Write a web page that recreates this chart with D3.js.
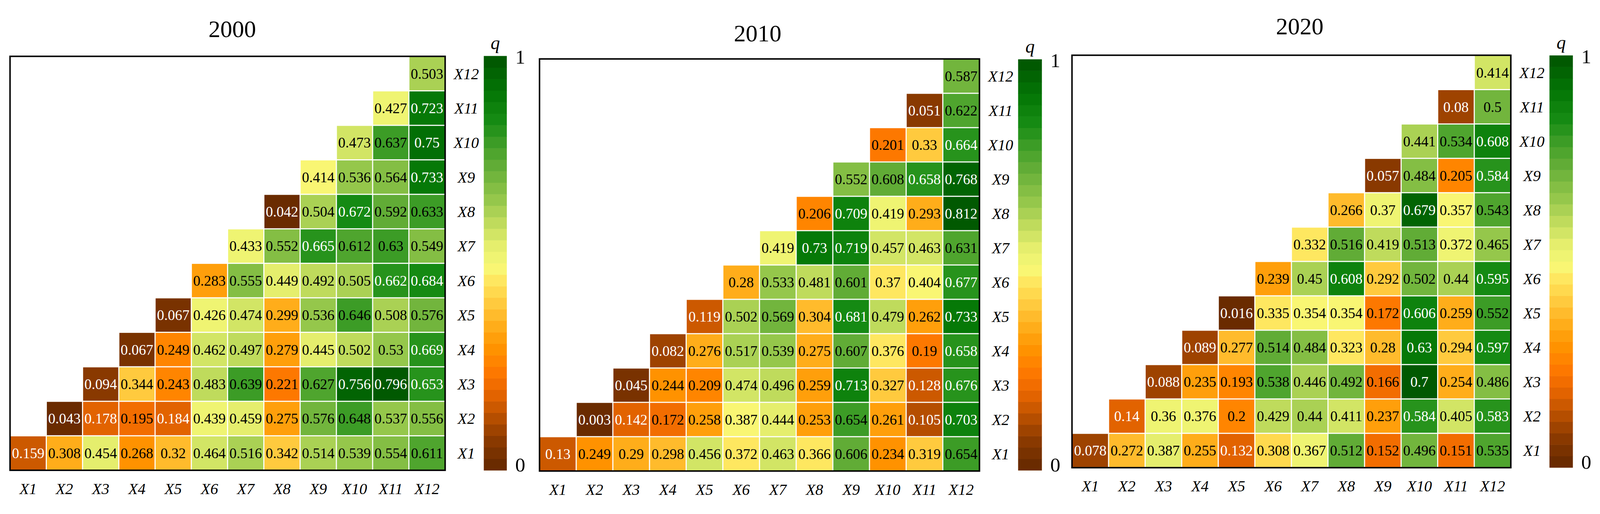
<!DOCTYPE html>
<html>
<head>
<meta charset="utf-8">
<script src="https://cdn.jsdelivr.net/npm/d3@7"></script>
<style>
  html, body { margin: 0; padding: 0; background: #fff; overflow: hidden; }
  #chart { display: block; width: 100vw; height: 100vh; }
  text { font-family: "Liberation Serif", "Times New Roman", serif; }
</style>
</head>
<body>
<svg id="chart" viewBox="0 0 4306 1317" preserveAspectRatio="xMidYMid meet"></svg>
<script>

const factors = ["X1", "X2", "X3", "X4", "X5", "X6", "X7", "X8", "X9", "X10", "X11", "X12"];
const years = ["2000", "2010", "2020"];

// row Xi holds q of Xi ∩ Xj for j = i..12 (diagonal first)
const q2000 = [
  [0.159, 0.308, 0.454, 0.268, 0.32, 0.464, 0.516, 0.342, 0.514, 0.539, 0.554, 0.611],
  [0.043, 0.178, 0.195, 0.184, 0.439, 0.459, 0.275, 0.576, 0.648, 0.537, 0.556],
  [0.094, 0.344, 0.243, 0.483, 0.639, 0.221, 0.627, 0.756, 0.796, 0.653],
  [0.067, 0.249, 0.462, 0.497, 0.279, 0.445, 0.502, 0.53, 0.669],
  [0.067, 0.426, 0.474, 0.299, 0.536, 0.646, 0.508, 0.576],
  [0.283, 0.555, 0.449, 0.492, 0.505, 0.662, 0.684],
  [0.433, 0.552, 0.665, 0.612, 0.63, 0.549],
  [0.042, 0.504, 0.672, 0.592, 0.633],
  [0.414, 0.536, 0.564, 0.733],
  [0.473, 0.637, 0.75],
  [0.427, 0.723],
  [0.503]
];

const q2010 = [
  [0.13, 0.249, 0.29, 0.298, 0.456, 0.372, 0.463, 0.366, 0.606, 0.234, 0.319, 0.654],
  [0.003, 0.142, 0.172, 0.258, 0.387, 0.444, 0.253, 0.654, 0.261, 0.105, 0.703],
  [0.045, 0.244, 0.209, 0.474, 0.496, 0.259, 0.713, 0.327, 0.128, 0.676],
  [0.082, 0.276, 0.517, 0.539, 0.275, 0.607, 0.376, 0.19, 0.658],
  [0.119, 0.502, 0.569, 0.304, 0.681, 0.479, 0.262, 0.733],
  [0.28, 0.533, 0.481, 0.601, 0.37, 0.404, 0.677],
  [0.419, 0.73, 0.719, 0.457, 0.463, 0.631],
  [0.206, 0.709, 0.419, 0.293, 0.812],
  [0.552, 0.608, 0.658, 0.768],
  [0.201, 0.33, 0.664],
  [0.051, 0.622],
  [0.587]
];

const q2020 = [
  [0.078, 0.272, 0.387, 0.255, 0.132, 0.308, 0.367, 0.512, 0.152, 0.496, 0.151, 0.535],
  [0.14, 0.36, 0.376, 0.2, 0.429, 0.44, 0.411, 0.237, 0.584, 0.405, 0.583],
  [0.088, 0.235, 0.193, 0.538, 0.446, 0.492, 0.166, 0.7, 0.254, 0.486],
  [0.089, 0.277, 0.514, 0.484, 0.323, 0.28, 0.63, 0.294, 0.597],
  [0.016, 0.335, 0.354, 0.354, 0.172, 0.606, 0.259, 0.552],
  [0.239, 0.45, 0.608, 0.292, 0.502, 0.44, 0.595],
  [0.332, 0.516, 0.419, 0.513, 0.372, 0.465],
  [0.266, 0.37, 0.679, 0.357, 0.543],
  [0.057, 0.484, 0.205, 0.584],
  [0.441, 0.534, 0.608],
  [0.08, 0.5],
  [0.414]
];

const panelData = [q2000, q2010, q2020];

// brown -> orange -> yellow -> green colour ramp
const rampStops = [0, 0.08, 0.14, 0.19, 0.24, 0.30, 0.35, 0.40, 0.45, 0.49, 0.54, 0.59, 0.65, 0.72, 0.78, 0.84, 0.91, 1];
const rampColors = ["#622800", "#8f3c00", "#c25400", "#ea6600", "#ff7a00", "#ff9600", "#ffae1c", "#ffc83c",
                    "#ffe35a", "#f8f876", "#e6ef6e", "#c4de5e", "#97c84c", "#6bb13a", "#45a02a", "#178c14",
                    "#047706", "#005400"];
const nLevels = 36;

const ramp = d3.scaleLinear().domain(rampStops).range(rampColors).interpolate(d3.interpolateRgb);
function stepColor(t) {
  let k = Math.min(nLevels - 1, Math.max(0, Math.floor(t * nLevels)));
  return ramp((k + 0.5) / nLevels);
}

// where each panel sits on the page
const layout = [
  { x0: 27,   x1: 1198, y0: 118, y1: 1233, cb: [1302, 1364, 117, 1233],   tx: 625,  ty: 66 },
  { x0: 1452, x1: 2636, y0: 125, y1: 1235, cb: [2740, 2804, 126, 1233],   tx: 2039, ty: 78 },
  { x0: 2885, x1: 4066, y0: 115, y1: 1226, cb: [4170, 4233, 115.5, 1225.5], tx: 3498, ty: 59 }
];

const svg = d3.select("#chart");

panelData.forEach(function(rows, p) {

  const L = layout[p];
  const g = svg.append("g");

  let all = rows.flat();
  let vmin = d3.min(all), vmax = d3.max(all);
  const tScale = d3.scaleLinear().domain([vmin, vmax]).range([0, 1]);

  const xb = d3.scaleBand().domain(factors).range([L.x0, L.x1]);
  const yb = d3.scaleBand().domain(factors.slice().reverse()).range([L.y0, L.y1]);

  // build cells
  let cells = [];
  rows.forEach(function(r, i) {
    r.forEach(function(v, k) {
      cells.push({ row: factors[i], col: factors[i + k], v: v, t: tScale(v) });
    });
  });

  const gap = 3;
  g.selectAll("rect.cell")
    .data(cells)
    .enter().append("rect")
    .attr("class", "cell")
    .attr("x", d => xb(d.col) + gap / 2)
    .attr("y", d => yb(d.row) + gap / 2)
    .attr("width", xb.bandwidth() - gap)
    .attr("height", yb.bandwidth() - gap)
    .attr("fill", d => stepColor(d.t));

  g.selectAll("text.val")
    .data(cells)
    .enter().append("text")
    .attr("class", "val")
    .attr("x", d => xb(d.col) + xb.bandwidth() / 2)
    .attr("y", d => yb(d.row) + yb.bandwidth() / 2)
    .attr("dy", "0.35em")
    .attr("text-anchor", "middle")
    .attr("font-size", 39)
    .attr("fill", d => (d.t < 0.19 || d.t > 0.807) ? "#fff" : "#000")
    .text(d => String(d.v));

  // frame
  g.append("rect")
    .attr("x", L.x0).attr("y", L.y0)
    .attr("width", L.x1 - L.x0).attr("height", L.y1 - L.y0)
    .attr("fill", "none").attr("stroke", "#000").attr("stroke-width", 4);

  // row labels on the right
  g.selectAll("text.rlab")
    .data(factors)
    .enter().append("text")
    .attr("class", "rlab")
    .attr("x", L.x1 + 57)
    .attr("y", d => yb(d) + yb.bandwidth() / 2)
    .attr("dy", "0.35em")
    .attr("text-anchor", "middle")
    .attr("font-size", 42)
    .attr("font-style", "italic")
    .text(d => d);

  // column labels below
  g.selectAll("text.clab")
    .data(factors)
    .enter().append("text")
    .attr("class", "clab")
    .attr("x", d => xb(d) + xb.bandwidth() / 2)
    .attr("y", L.y1 + 64)
    .attr("text-anchor", "middle")
    .attr("font-size", 42)
    .attr("font-style", "italic")
    .text(d => d);

  // title
  g.append("text")
    .attr("x", L.tx).attr("y", L.ty)
    .attr("text-anchor", "middle")
    .attr("font-size", 64)
    .text(years[p]);

  // stepped colour bar
  const [cbx0, cbx1, cby0, cby1] = L.cb;
  const ys = d3.scaleLinear().domain([0, 1]).range([cby1, cby0]);
  g.selectAll("rect.cb")
    .data(d3.range(nLevels))
    .enter().append("rect")
    .attr("class", "cb")
    .attr("x", cbx0)
    .attr("width", cbx1 - cbx0)
    .attr("y", k => ys((k + 1) / nLevels))
    .attr("height", k => ys(k / nLevels) - ys((k + 1) / nLevels) + 0.6)
    .attr("fill", k => stepColor((k + 0.5) / nLevels));

  g.append("text")
    .attr("x", (cbx0 + cbx1) / 2).attr("y", cby0 - 18)
    .attr("text-anchor", "middle")
    .attr("font-size", 50)
    .attr("font-style", "italic")
    .text("q");

  g.append("text")
    .attr("x", cbx1 + 36).attr("y", cby0 + 21)
    .attr("text-anchor", "middle")
    .attr("font-size", 54)
    .text("1");

  g.append("text")
    .attr("x", cbx1 + 36).attr("y", cby1 + 3)
    .attr("text-anchor", "middle")
    .attr("font-size", 54)
    .text("0");
});

</script>
</body>
</html>
